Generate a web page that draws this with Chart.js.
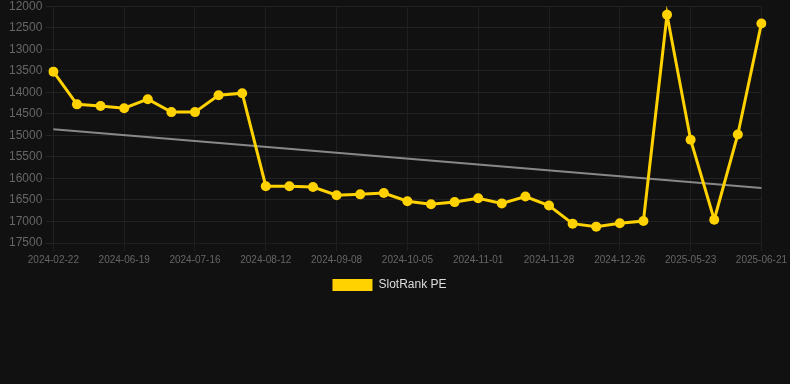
<!DOCTYPE html>
<html>
<head>
<meta charset="utf-8">
<script src="https://cdn.jsdelivr.net/npm/chart.js@4/dist/chart.umd.min.js"></script>
<style>
  html, body { margin: 0; padding: 0; background: #111111; overflow: hidden; }
  #wrap { position: relative; top: -4px; width: 790px; height: 305px; }
</style>
</head>
<body>
<div id="wrap"><canvas id="c"></canvas></div>
<script>
const categories = [
  "2024-02-22", "2024-06-01", "2024-06-10", "2024-06-19", "2024-06-28", "2024-07-07",
  "2024-07-16", "2024-07-25", "2024-08-03", "2024-08-12", "2024-08-21", "2024-08-30",
  "2024-09-08", "2024-09-17", "2024-09-26", "2024-10-05", "2024-10-14", "2024-10-23",
  "2024-11-01", "2024-11-10", "2024-11-19", "2024-11-28", "2024-12-07", "2024-12-17",
  "2024-12-26", "2025-01-04", "2025-05-13", "2025-05-23", "2025-06-02", "2025-06-11",
  "2025-06-21"
];
const seriesName = "SlotRank PE";
const seriesValues = [
  13520, 14280, 14320, 14370, 14160, 14460,
  14460, 14070, 14020, 16180, 16180, 16200,
  16390, 16370, 16340, 16530, 16600, 16550,
  16460, 16580, 16420, 16630, 17050, 17120,
  17040, 16990, 12200, 15100, 16960, 14980,
  12400
];
// trend line endpoints (first and last category)
const trendStart = 14860;
const trendEnd = 16220;
const yTicks = [12000, 12500, 13000, 13500, 14000, 14500, 15000, 15500, 16000, 16500, 17000, 17500];
const labelEvery = 3;

const trendValues = categories.map((_, i) =>
  i === 0 ? trendStart : (i === categories.length - 1 ? trendEnd : null));

new Chart(document.getElementById('c'), {
  type: 'line',
  data: {
    labels: categories,
    datasets: [
      {
        label: seriesName,
        data: seriesValues,
        borderColor: 'rgb(255,210,0)',
        backgroundColor: 'rgb(255,210,0)',
        borderWidth: 3,
        pointRadius: 5,
        pointBorderWidth: 0,
        pointHoverRadius: 5,
        pointBackgroundColor: 'rgb(255,210,0)',
        pointBorderColor: 'rgb(255,210,0)',
        tension: 0,
        order: 1
      },
      {
        label: 'trend',
        data: trendValues,
        spanGaps: true,
        borderColor: 'rgba(150,150,150,0.9)',
        backgroundColor: 'rgba(150,150,150,0.9)',
        borderWidth: 2,
        pointRadius: 0,
        tension: 0,
        order: 2
      }
    ]
  },
  options: {
    responsive: true,
    maintainAspectRatio: false,
    animation: false,
    layout: { padding: { left: 6, right: 17, top: 0, bottom: 0 } },
    plugins: {
      tooltip: { enabled: false },
      legend: {
        position: 'bottom',
        labels: {
          color: '#dddddd',
          font: { size: 12 },
          boxWidth: 40,
          boxHeight: 12,
          filter: (item) => item.text === seriesName,
          generateLabels: (chart) => {
            const items = Chart.defaults.plugins.legend.labels.generateLabels(chart);
            items.forEach(it => { it.lineWidth = 0; it.strokeStyle = 'rgba(0,0,0,0)'; });
            return items;
          }
        }
      }
    },
    scales: {
      x: {
        grid: {
          color: (ctx) => (ctx.index % labelEvery === 0 ? '#1f1f1f' : 'rgba(0,0,0,0)'),
          drawTicks: true
        },
        border: { color: '#1f1f1f' },
        ticks: {
          color: '#666666',
          font: { size: 10 },
          autoSkip: false,
          maxRotation: 0,
          minRotation: 0,
          callback: function(v, i) { return i % labelEvery === 0 ? categories[i] : ''; }
        }
      },
      y: {
        reverse: true,
        min: yTicks[0],
        max: yTicks[yTicks.length - 1],
        afterBuildTicks: (axis) => { axis.ticks = yTicks.map(v => ({ value: v })); },
        grid: { color: '#222222' },
        border: { color: '#222222' },
        ticks: { color: '#666666', font: { size: 12 }, callback: (v) => String(v) }
      }
    }
  }
});
</script>
</body>
</html>
